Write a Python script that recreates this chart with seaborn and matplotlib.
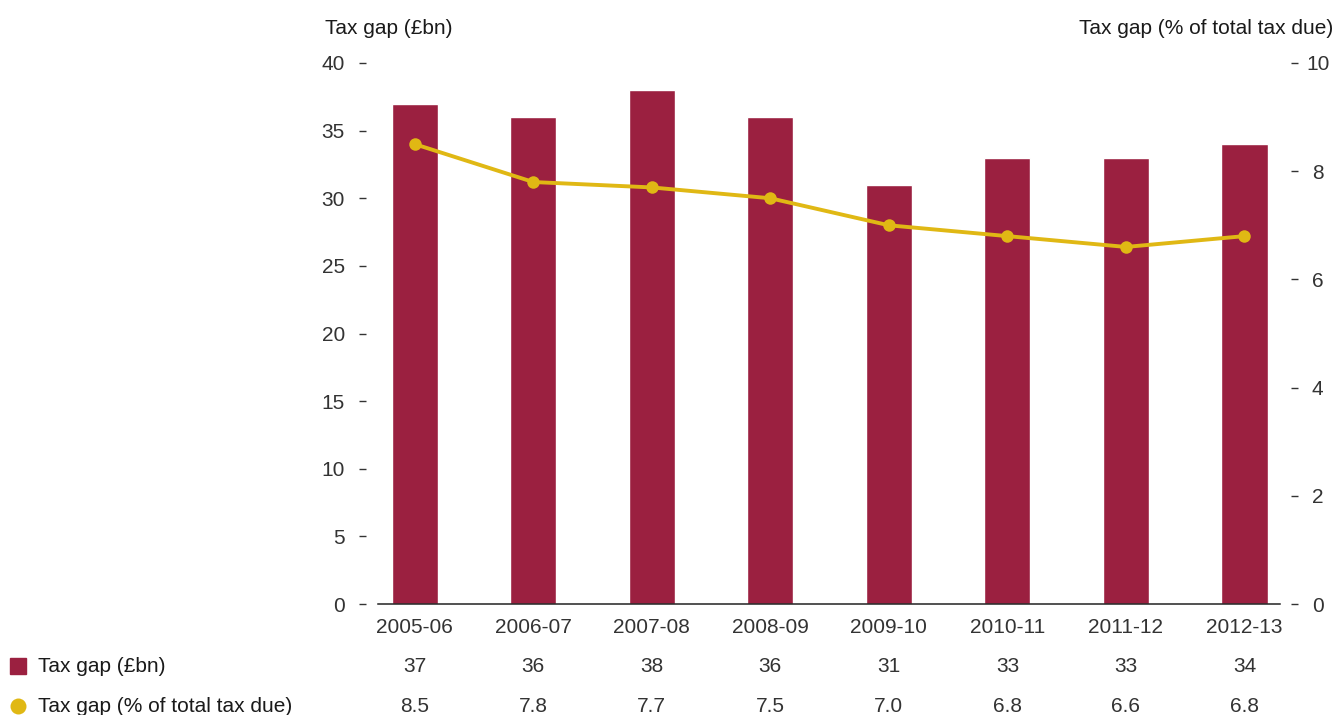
import numpy as np
import pandas as pd
import matplotlib
matplotlib.use("Agg")
import matplotlib.pyplot as plt
import matplotlib.transforms as mtransforms
from matplotlib.patches import Rectangle
from matplotlib.lines import Line2D
import seaborn as sns

years = ["2005-06", "2006-07", "2007-08", "2008-09", "2009-10", "2010-11", "2011-12", "2012-13"]
gap_bn = [37, 36, 38, 36, 31, 33, 33, 34]
gap_pct = [8.5, 7.8, 7.7, 7.5, 7.0, 6.8, 6.6, 6.8]
left_ticks = [0, 5, 10, 15, 20, 25, 30, 35, 40]
right_ticks = [0, 2, 4, 6, 8, 10]

BAR = "#9B2040"
LINE = "#E0B814"
TXT = "#1a1a1a"
TICK = "#333333"

sns.set_theme(style="white")
plt.rcParams["font.family"] = ["Liberation Sans", "DejaVu Sans"]

df = pd.DataFrame({"year": years, "bn": gap_bn, "pct": gap_pct, "pos": np.arange(len(years))})

fig = plt.figure(figsize=(13.36, 7.15), dpi=100)
ax = fig.add_axes([378 / 1336, 1 - 604 / 715, (1280 - 378) / 1336, (604 - 63) / 715])

sns.barplot(data=df, x="year", y="bn", color=BAR, saturation=1, width=0.39, ax=ax)
ax.set_xlim(-0.31, 7.3)
ax.set_ylim(0, 40)

ax2 = ax.twinx()
sns.lineplot(data=df, x="pos", y="pct", color=LINE, linewidth=2.8, marker="o",
             markersize=9, markeredgewidth=0, ax=ax2)
ax2.set_ylim(0, 10)
ax2.set_xlim(-0.31, 7.3)

for a in (ax, ax2):
    for s in a.spines.values():
        s.set_visible(False)
    a.set_xlabel("")
    a.set_ylabel("")
    a.grid(False)

ax.spines["bottom"].set_visible(True)
ax.spines["bottom"].set_color("#222222")
ax.spines["bottom"].set_linewidth(1.1)

# detached y ticks: short dashes set off from the plot area
ax.spines["left"].set_position(("outward", 8.6))
ax.set_yticks(left_ticks)
ax.set_yticklabels([str(t) for t in left_ticks])
ax.tick_params(axis="y", which="both", left=True, length=5.2, width=1, color=TICK,
               pad=10, labelsize=15, labelcolor=TICK)

ax2.spines["right"].set_position(("outward", 8))
ax2.set_yticks(right_ticks)
ax2.set_yticklabels([str(t) for t in right_ticks])
ax2.tick_params(axis="y", which="both", right=True, length=5.2, width=1, color=TICK,
                pad=14, labelsize=15, labelcolor=TICK)
for lbl in ax2.get_yticklabels():
    lbl.set_horizontalalignment("center")

ax.set_xticks(np.arange(len(years)))
ax.set_xticklabels(years)
ax.tick_params(axis="x", length=0, pad=10, labelsize=15, labelcolor=TICK)
ax2.tick_params(axis="x", length=0, labelbottom=False)

fig.text(325 / 1336, 1 - 28 / 715, "Tax gap (£bn)", fontsize=15, color=TXT,
         ha="left", va="center")
fig.text(1333 / 1336, 1 - 28 / 715, "Tax gap (% of total tax due)", fontsize=15, color=TXT,
         ha="right", va="center")

# data table beneath the axis
trans = mtransforms.blended_transform_factory(ax.transData, fig.transFigure)
row_y = [1 - 666 / 715, 1 - 706 / 715]
for i in range(len(years)):
    ax.text(i, row_y[0], f"{gap_bn[i]}", transform=trans, ha="center", va="center",
            fontsize=15, color=TICK, clip_on=False)
    ax.text(i, row_y[1], f"{gap_pct[i]:.1f}", transform=trans, ha="center", va="center",
            fontsize=15, color=TICK, clip_on=False)

fig.patches.append(Rectangle((10 / 1336, 1 - 674 / 715), 16 / 1336, 16 / 715,
                             transform=fig.transFigure, color=BAR, figure=fig))
fig.add_artist(Line2D([18 / 1336], [1 - 706 / 715], transform=fig.transFigure,
                      marker="o", markersize=11.5, markeredgewidth=0, color=LINE,
                      linestyle="none"))
fig.text(38 / 1336, row_y[0], "Tax gap (£bn)", fontsize=15, color=TXT, ha="left", va="center")
fig.text(38 / 1336, row_y[1], "Tax gap (% of total tax due)", fontsize=15, color=TXT,
         ha="left", va="center")

fig.savefig("out.png", dpi=100)
